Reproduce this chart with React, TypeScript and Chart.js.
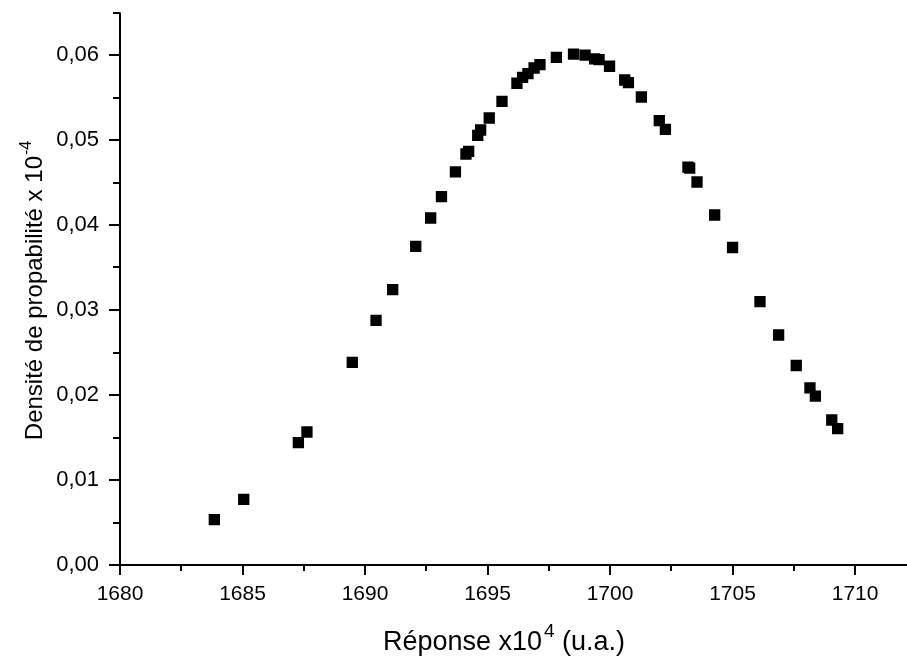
import React, { useEffect, useRef } from "react";
import { Chart, registerables } from "chart.js";

Chart.register(...registerables);

const xValues: number[] = [
  1683.85, 1685.05, 1687.28, 1687.63, 1689.48, 1690.45, 1691.13, 1692.07, 1692.68, 1693.12,
  1693.69, 1694.12, 1694.23, 1694.6, 1694.72, 1695.07, 1695.59, 1696.2, 1696.43, 1696.65,
  1696.9, 1697.14, 1697.81, 1698.51, 1698.98, 1699.37, 1699.55, 1699.98, 1700.6, 1700.75,
  1701.28, 1702.01, 1702.26, 1703.18, 1703.25, 1703.55, 1704.27, 1705.0, 1706.12, 1706.88,
  1707.6, 1708.16, 1708.38, 1709.05, 1709.29,
];
const yValues: number[] = [
  0.00533, 0.00773, 0.01439, 0.01565, 0.02384, 0.02878, 0.03239, 0.03749, 0.04082, 0.04333,
  0.04624, 0.04835, 0.04867, 0.05055, 0.05118, 0.05259, 0.05455, 0.05668, 0.05736, 0.0578,
  0.05847, 0.05886, 0.05973, 0.0601, 0.05998, 0.05955, 0.05945, 0.05868, 0.05706, 0.05674,
  0.05506, 0.05227, 0.05125, 0.0468, 0.0467, 0.04506, 0.04118, 0.03735, 0.03098, 0.02706,
  0.02347, 0.02084, 0.01986, 0.01706, 0.01604,
];

const X_MIN = 1680;
const X_MAX = 1712.12;
const X_STEP = 2.5;
const X_MAJOR = 5;
const Y_MIN = 0;
const Y_MAX = 0.065;
const Y_STEP = 0.005;
const Y_MAJOR = 0.01;

const xTitleMain = "Réponse x10";
const xTitleSup = "4";
const xTitleEnd = " (u.a.)";
const yTitleMain = "Densité de propabilité x 10";
const yTitleSup = "-4";

const FONT = "'Liberation Sans', Arial, sans-serif";
const POINT_R = 8;
const VIEW_W = 907;
const VIEW_H = 657;

const isMultiple = (v: number, m: number) => Math.abs(v / m - Math.round(v / m)) < 1e-6;

const axesPlugin = {
  id: "originAxes",
  afterDraw(chart: any) {
    const ctx = chart.ctx as CanvasRenderingContext2D;
    const xs = chart.scales.x;
    const ys = chart.scales.y;
    const area = chart.chartArea;
    ctx.save();
    ctx.strokeStyle = "#000";
    ctx.lineWidth = 2;
    ctx.lineCap = "butt";
    ctx.beginPath();
    ctx.moveTo(area.left, area.top);
    ctx.lineTo(area.left, area.bottom + 1);
    ctx.moveTo(area.left - 1, area.bottom);
    ctx.lineTo(area.right, area.bottom);
    ctx.stroke();
    ctx.beginPath();
    for (const t of xs.ticks) {
      const v = t.value;
      if (!isMultiple(v - X_MIN, X_STEP)) continue;
      const px = Math.round(xs.getPixelForValue(v));
      const len = isMultiple(v, X_MAJOR) ? 10 : 6;
      ctx.moveTo(px, area.bottom);
      ctx.lineTo(px, area.bottom + len);
    }
    for (const t of ys.ticks) {
      const v = t.value;
      if (!isMultiple(v, Y_STEP)) continue;
      const py = Math.round(ys.getPixelForValue(v));
      const len = isMultiple(v, Y_MAJOR) ? 11 : 7;
      ctx.moveTo(area.left, py);
      ctx.lineTo(area.left - len, py);
    }
    ctx.stroke();

    ctx.fillStyle = "#000";
    ctx.textBaseline = "alphabetic";
    ctx.textAlign = "left";
    // x title
    const xMain = `27px ${FONT}`;
    const xSup = `19px ${FONT}`;
    const by = 650;
    ctx.font = xMain;
    const w1 = ctx.measureText(xTitleMain).width;
    const w3 = ctx.measureText(xTitleEnd).width;
    ctx.font = xSup;
    const w2 = ctx.measureText(xTitleSup).width;
    const gap = 2;
    const x0 = 504 - (w1 + gap + w2 + w3) / 2;
    ctx.font = xMain;
    ctx.fillText(xTitleMain, x0, by);
    ctx.font = xSup;
    ctx.fillText(xTitleSup, x0 + w1 + gap, by - 13);
    ctx.font = xMain;
    ctx.fillText(xTitleEnd, x0 + w1 + gap + w2, by);

    // y title (rotated)
    const yMain = `24px ${FONT}`;
    const ySup = `16px ${FONT}`;
    ctx.save();
    ctx.translate(42, 291);
    ctx.rotate(-Math.PI / 2);
    ctx.font = yMain;
    const yw1 = ctx.measureText(yTitleMain).width;
    ctx.font = ySup;
    const yw2 = ctx.measureText(yTitleSup).width;
    const y0 = -(yw1 + yw2) / 2;
    ctx.font = yMain;
    ctx.fillText(yTitleMain, y0, 0);
    ctx.font = ySup;
    ctx.fillText(yTitleSup, y0 + yw1 + 1, -11);
    ctx.restore();

    ctx.restore();
  },
};

export default function App() {
  const canvasRef = useRef<HTMLCanvasElement | null>(null);

  useEffect(() => {
    if (!canvasRef.current) return;
    const points = xValues.map((x, i) => ({ x, y: yValues[i] }));
    const chart = new Chart(canvasRef.current, {
      type: "scatter",
      data: {
        datasets: [
          {
            data: points,
            pointStyle: "rect",
            pointRadius: POINT_R,
            pointHoverRadius: POINT_R,
            pointBorderWidth: 0,
            borderWidth: 0,
            pointBackgroundColor: "#000",
            pointBorderColor: "#000",
            showLine: false,
          },
        ],
      },
      options: {
        animation: false,
        responsive: false,
        devicePixelRatio: 1,
        layout: { padding: { top: 12.5, right: 0, left: 0, bottom: 0 } },
        plugins: { legend: { display: false }, tooltip: { enabled: false } },
        events: [],
        scales: {
          x: {
            type: "linear",
            min: X_MIN,
            max: X_MAX,
            grid: { display: false, drawTicks: false },
            border: { display: false },
            ticks: {
              stepSize: X_STEP,
              includeBounds: false,
              autoSkip: false,
              maxRotation: 0,
              padding: 17,
              color: "#000",
              font: { family: FONT, size: 21 },
              callback: (v: any) => (isMultiple(Number(v), X_MAJOR) ? String(Math.round(Number(v))) : ""),
            },
            afterFit: (s: any) => {
              s.height = 92;
              s.paddingLeft = 0;
              s.paddingRight = 0;
            },
          },
          y: {
            type: "linear",
            min: Y_MIN,
            max: Y_MAX,
            grid: { display: false, drawTicks: false },
            border: { display: false },
            ticks: {
              stepSize: Y_STEP,
              includeBounds: false,
              autoSkip: false,
              padding: 21,
              color: "#000",
              font: { family: FONT, size: 22 },
              callback: (v: any) =>
                isMultiple(Number(v), Y_MAJOR) ? Number(v).toFixed(2).replace(".", ",") : "",
            },
            afterFit: (s: any) => {
              s.width = 120;
              s.paddingTop = 0;
              s.paddingBottom = 0;
            },
          },
        },
      },
      plugins: [axesPlugin],
    });
    return () => chart.destroy();
  }, []);

  return (
    <div
      style={{
        position: "absolute",
        left: 0,
        top: 0,
        width: VIEW_W,
        height: VIEW_H,
        overflow: "hidden",
        background: "#fff",
      }}
    >
      <canvas
        ref={canvasRef}
        width={VIEW_W + POINT_R}
        height={VIEW_H}
        style={{ display: "block" }}
      />
    </div>
  );
}
